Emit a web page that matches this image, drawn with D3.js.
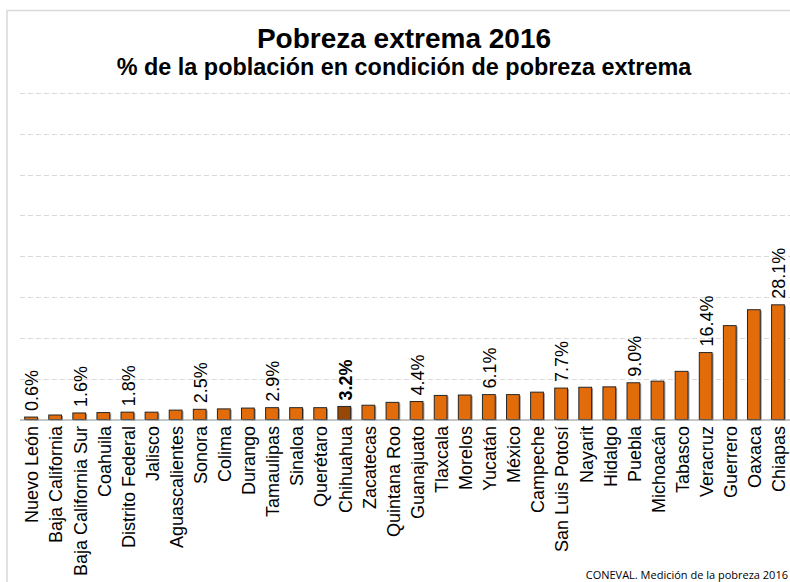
<!DOCTYPE html>
<html>
<head>
<meta charset="utf-8">
<script src="https://cdn.jsdelivr.net/npm/d3@7"></script>
<style>
  body { margin: 0; background: #fff; }
  svg { display: block; font-family: 'Liberation Sans', Arial, sans-serif; }
</style>
</head>
<body>
<div id="chart"></div>
<script>
const states = ["Nuevo León", "Baja California", "Baja California Sur", "Coahuila", "Distrito Federal",
    "Jalisco", "Aguascalientes", "Sonora", "Colima", "Durango", "Tamaulipas", "Sinaloa", "Querétaro",
    "Chihuahua", "Zacatecas", "Quintana Roo", "Guanajuato", "Tlaxcala", "Morelos", "Yucatán", "México",
    "Campeche", "San Luis Potosí", "Nayarit", "Hidalgo", "Puebla", "Michoacán", "Tabasco", "Veracruz",
    "Guerrero", "Oaxaca", "Chiapas"];
const values = [0.6, 1.1, 1.6, 1.7, 1.8, 1.8, 2.3, 2.5, 2.6, 2.8, 2.9, 2.9, 2.9, 3.2, 3.5, 4.2, 4.4,
    5.9, 6.0, 6.1, 6.1, 6.7, 7.7, 7.9, 8.0, 9.0, 9.4, 11.8, 16.4, 23.0, 26.9, 28.1];
const labelled = ["Nuevo León", "Baja California Sur", "Distrito Federal", "Sonora", "Tamaulipas",
    "Chihuahua", "Guanajuato", "Yucatán", "San Luis Potosí", "Puebla", "Veracruz", "Chiapas"];
const highlight = "Chihuahua";
const yTicks = [10, 20, 30, 40, 50, 60, 70, 80];

const W = 790, H = 582;
const data = states.map((s, k) => ({ state: s, value: values[k] }));

const svg = d3.select("#chart").append("svg")
    .attr("width", W)
    .attr("height", H);

// chart frame (partly outside the window)
svg.append("rect")
    .attr("x", 7).attr("y", 10.5)
    .attr("width", 800).attr("height", 620)
    .attr("fill", "none")
    .attr("stroke", "#d9d9d9")
    .attr("stroke-width", 1.5);

const x = d3.scaleBand()
    .domain(states)
    .range([19, 790])
    .paddingInner(0.47)
    .paddingOuter(0.235);

const y = d3.scaleLinear()
    .domain([0, 80])
    .range([419.5, 93]);

// dashed gridlines
svg.append("g")
    .selectAll("line")
    .data(yTicks)
    .join("line")
    .attr("x1", 20).attr("x2", W)
    .attr("y1", d => Math.round(y(d)) + 0.5)
    .attr("y2", d => Math.round(y(d)) + 0.5)
    .attr("stroke", "#d9d9d9")
    .attr("stroke-dasharray", "5,3");

// soft shadow behind the bars
svg.append("g")
    .selectAll("rect")
    .data(data)
    .join("rect")
    .attr("x", d => x(d.state) + 1.5)
    .attr("y", d => y(d.value) + 1)
    .attr("width", x.bandwidth())
    .attr("height", d => y(0) - y(d.value))
    .attr("fill", "#9e9e9e");

// bars
svg.append("g")
    .selectAll("rect")
    .data(data)
    .join("rect")
    .attr("x", d => x(d.state))
    .attr("y", d => y(d.value))
    .attr("width", x.bandwidth())
    .attr("height", d => y(0) - y(d.value))
    .attr("fill", d => d.state === highlight ? "#974806" : "#e36c0a")
    .attr("stroke", "#262626")
    .attr("stroke-width", 1);

// baseline
svg.append("line")
    .attr("x1", 20).attr("x2", W)
    .attr("y1", 420).attr("y2", 420)
    .attr("stroke", "#8c8c8c")
    .attr("stroke-width", 1);

// value labels
svg.append("g")
    .selectAll("text")
    .data(data.filter(d => labelled.includes(d.state)))
    .join("text")
    .attr("transform", d => `translate(${x(d.state) + x.bandwidth() / 2 + 1},${y(d.value) - 6}) rotate(-90)`)
    .attr("dy", "0.35em")
    .attr("font-size", 18)
    .attr("font-weight", d => d.state === highlight ? "bold" : "normal")
    .attr("fill", "#000")
    .text(d => d.value.toFixed(1) + "%");

// category labels
svg.append("g")
    .selectAll("text")
    .data(states)
    .join("text")
    .attr("transform", d => `translate(${x(d) + x.bandwidth() / 2 + 1},426) rotate(-90)`)
    .attr("text-anchor", "end")
    .attr("dy", "0.35em")
    .attr("font-size", 18)
    .attr("fill", "#000")
    .text(d => d);

// titles
svg.append("text")
    .attr("x", 404).attr("y", 48)
    .attr("text-anchor", "middle")
    .attr("font-size", 28)
    .attr("font-weight", "bold")
    .text("Pobreza extrema 2016");

svg.append("text")
    .attr("x", 404).attr("y", 75)
    .attr("text-anchor", "middle")
    .attr("font-size", 23.4)
    .attr("font-weight", "bold")
    .text("% de la población en condición de pobreza extrema");

// source
svg.append("text")
    .attr("x", 788).attr("y", 579)
    .attr("text-anchor", "end")
    .attr("font-family", "'Open Sans', sans-serif")
    .attr("font-size", 11)
    .attr("fill", "#000")
    .text("CONEVAL. Medición de la pobreza 2016");
</script>
</body>
</html>
